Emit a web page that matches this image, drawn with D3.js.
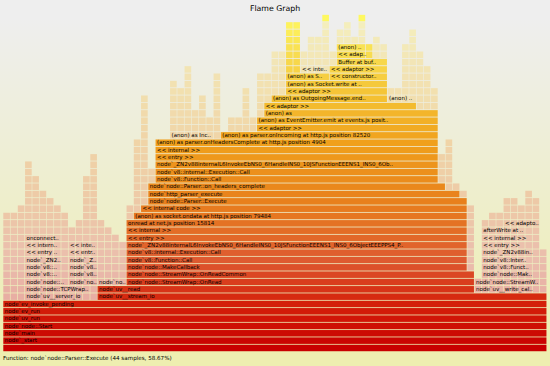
<!DOCTYPE html>
<html>
<head>
<meta charset="utf-8">
<script src="https://cdn.jsdelivr.net/npm/d3@7"></script>
<style>
  body { margin: 0; background: #fff; }
  svg { display: block; }
  text { font-family: "DejaVu Sans", Verdana, sans-serif; }
</style>
</head>
<body>
<svg></svg>
<script>
const totalSamples = 75;
const maxDepth = 45;
const chartTitle = 'Flame Graph';
const details = 'Function: node`node::Parser::Execute (44 samples, 58.67%)';

// highest frame depth in each sample column
const stackTop = [18, 18, 19, 25, 23, 21, 20, 19, 18, 16, 17, 23, 26, 17, 16, 15, 14, 19, 28, 34,
  24, 28, 28, 36, 35, 38, 32, 34, 31, 37, 29, 31, 31, 35, 31, 37, 37, 40, 40, 44,
  44, 40, 42, 42, 45, 40, 43, 44, 42, 45, 41, 42, 41, 35, 35, 41, 43, 40, 38, 35,
  26, 28, 22, 21, 19, 9, 17, 18, 18, 20, 20, 19, 21, 20, 13];
// frames up to this depth are highlighted, the rest are faded
const hotTop = [6, 6, 6, 6, 6, 6, 6, 6, 6, 6, 6, 6, 6, 8, 8, 8, 8, 17, 18, 19,
  22, 28, 28, 28, 28, 28, 28, 28, 28, 28, 29, 29, 29, 29, 29, 31, 33, 34, 34, 44,
  44, 37, 37, 37, 37, 38, 41, 41, 41, 41, 41, 39, 39, 33, 33, 33, 33, 32, 32, 32,
  22, 21, 21, 20, 10, 7, 7, 7, 7, 7, 7, 7, 7, 7, 7];
// highlighted leaf frames sitting on faded ones: [sample, depth]
const hotTips = [[44, 45], [49, 45]];

// [depth, first sample, samples, label]
const baseFrames = [
  [0, 0, 75, ''],
  [1, 0, 75, 'node`_start'],
  [2, 0, 75, 'node`main'],
  [3, 0, 75, 'node`node::Start'],
  [4, 0, 75, 'node`uv_run'],
  [5, 0, 75, 'node`ev_run'],
  [6, 0, 75, 'node`ev_invoke_pending'],
  [7, 3, 10, 'node`uv__server_io'],
  [7, 13, 62, 'node`uv__stream_io'],
  [8, 3, 10, 'node`node::TCPWrap..'],
  [8, 13, 52, 'node`uv__read'],
  [8, 65, 9, 'node`uv__write_cal..']
];

const readFrames = [
  [9, 17, 48, 'node`node::StreamWrap::OnRead'],
  [10, 17, 48, 'node`node::StreamWrap::OnReadCommon'],
  [11, 17, 47, 'node`node::MakeCallback'],
  [12, 17, 47, 'node`v8::Function::Call'],
  [13, 17, 47, 'node`v8::internal::Execution::Call'],
  [14, 17, 47, 'node`_ZN2v88internalL6InvokeEbNS0_6HandleINS0_10JSFunctionEEENS1_INS0_6ObjectEEEPPS4_P..'],
  [15, 17, 47, '<< entry >>'],
  [16, 17, 47, '<< internal >>'],
  [17, 17, 47, 'onread at net.js position 15814'],
  [18, 18, 46, '(anon) as socket.ondata at http.js position 79484'],
  [19, 19, 45, '<< internal code >>']
];

const parserFrames = [
  [20, 20, 44, 'node`node::Parser::Execute'],
  [21, 20, 43, 'node`http_parser_execute'],
  [22, 20, 41, 'node`node::Parser::on_headers_complete'],
  [23, 21, 39, 'node`v8::Function::Call'],
  [24, 21, 39, 'node`v8::internal::Execution::Call'],
  [25, 21, 39, 'node`_ZN2v88internalL6InvokeEbNS0_6HandleINS0_10JSFunctionEEENS1_INS0_6Ob..'],
  [26, 21, 39, '<< entry >>'],
  [27, 21, 39, '<< internal >>'],
  [28, 21, 39, '(anon) as parser.onHeadersComplete at http.js position 4904'],
  [29, 23, 7, '(anon) as Inc..'],
  [29, 30, 30, '(anon) as parser.onIncoming at http.js position 82520'],
  [30, 35, 25, '<< adaptor >>'],
  [31, 35, 25, '(anon) as EventEmitter.emit at events.js posit..'],
  [32, 36, 24, '(anon) as'],
  [33, 36, 21, '<< adaptor >>'],
  [34, 37, 16, '(anon) as OutgoingMessage.end..'],
  [34, 53, 4, '(anon) ..'],
  [35, 39, 14, '<< adaptor >>'],
  [36, 39, 14, '(anon) as Socket.write at ..'],
  [37, 39, 6, '(anon) as S..'],
  [37, 45, 8, '<< constructor..'],
  [38, 41, 4, '<< inte..'],
  [38, 45, 8, '<< adaptor >>'],
  [39, 46, 7, 'Buffer at buf..'],
  [40, 46, 4, '<< adap..'],
  [41, 46, 4, '(anon) ..']
];

const sideFrames = [
  [9, 3, 5, 'node`node::..'],
  [9, 9, 4, 'node`no..'],
  [9, 13, 4, 'node`no..'],
  [10, 3, 5, 'node`v8::..'],
  [10, 9, 4, 'node`v8..'],
  [11, 3, 5, 'node`v8::..'],
  [11, 9, 4, 'node`v8..'],
  [12, 3, 5, 'node`_ZN2..'],
  [12, 9, 4, 'node`_Z..'],
  [13, 3, 5, '<< entry ..'],
  [13, 9, 4, '<< entr..'],
  [14, 3, 5, '<< intern..'],
  [14, 9, 4, '<< inte..'],
  [15, 3, 5, 'onconnect..'],
  [9, 65, 9, 'node`node::StreamW..'],
  [10, 66, 8, 'node`node::Mak..'],
  [11, 66, 8, 'node`v8::Funct..'],
  [12, 66, 8, 'node`v8::Inter..'],
  [13, 66, 8, 'node`_ZN2v88in..'],
  [14, 66, 8, '<< entry >>'],
  [15, 66, 8, '<< internal >>'],
  [16, 66, 8, 'afterWrite at ..'],
  [17, 69, 5, '<< adapto..']
];

const width = 550;
const height = 366;

const svg = d3.select('svg').attr('width', width).attr('height', height);

const grad = svg.append('defs').append('linearGradient')
  .attr('id', 'background')
  .attr('x1', 0).attr('y1', 0).attr('x2', 0).attr('y2', 1);
grad.append('stop').attr('offset', '5%').attr('stop-color', '#eeeeee');
grad.append('stop').attr('offset', '95%').attr('stop-color', '#eeeeb0');

svg.append('rect')
  .attr('width', width)
  .attr('height', height)
  .attr('fill', 'url(#background)');

const x = d3.scaleLinear().domain([0, totalSamples]).range([3, 546.75]);
const y = d3.scaleLinear().domain([0, maxDepth]).range([344.3, 14.45]);
const rowH = y(0) - y(1);

const heat = d3.scaleLinear()
  .domain([0, 6, 12, 20, 28, 34, 40, 45])
  .range(['#c80000', '#d4200a', '#de5a30', '#e8801c', '#f0a01c', '#f4c032', '#f8dc50', '#fef860']);
const faded = (d) => d3.interpolateRgb(heat(d), '#f0ece8')(0.68);

const tipSet = new Set(hotTips.map(([s, d]) => s + ':' + d));
const isHot = (s, d) => d <= hotTop[s] || tipSet.has(s + ':' + d);

const frames = [...baseFrames, ...readFrames, ...parserFrames, ...sideFrames]
  .map(([depth, start, samples, label]) => ({ depth, start, samples, label }));
frames.forEach((f) => { f.hot = isHot(f.start, f.depth); });

// sample cells that a highlighted frame already covers
const covered = new Set();
frames.filter((f) => f.hot).forEach((f) => {
  d3.range(f.start, f.start + f.samples).forEach((s) => covered.add(s + ':' + f.depth));
});

const cells = [];
stackTop.forEach((top, s) => {
  d3.range(0, top + 1).forEach((d) => {
    if (!covered.has(s + ':' + d)) cells.push({ s, d, hot: isHot(s, d) });
  });
});

const g = svg.append('g');

g.selectAll('rect.cell')
  .data(cells)
  .join('rect')
  .attr('class', 'cell')
  .attr('x', (d) => x(d.s) + 0.3)
  .attr('y', (d) => y(d.d) + 0.4)
  .attr('width', x(1) - x(0) - 0.6)
  .attr('height', rowH - 0.8)
  .attr('fill', (d) => (d.hot ? heat(d.d) : faded(d.d)));

g.selectAll('rect.frame')
  .data(frames.filter((f) => f.hot))
  .join('rect')
  .attr('class', 'frame')
  .attr('x', (d) => x(d.start) + 0.3)
  .attr('y', (d) => y(d.depth) + 0.4)
  .attr('width', (d) => x(d.start + d.samples) - x(d.start) - 0.6)
  .attr('height', rowH - 0.8)
  .attr('fill', (d) => heat(d.depth));

g.selectAll('text.label')
  .data(frames.filter((f) => f.label))
  .join('text')
  .attr('class', 'label')
  .attr('x', (d) => x(d.start) + 1.8)
  .attr('y', (d) => y(d.depth) + 5.3)
  .attr('font-size', 5.5)
  .attr('fill', '#000')
  .text((d) => d.label);

svg.append('text')
  .attr('x', width / 2)
  .attr('y', 10.5)
  .attr('text-anchor', 'middle')
  .attr('font-size', 7.8)
  .attr('fill', '#000')
  .text(chartTitle);

svg.append('text')
  .attr('x', 3)
  .attr('y', 359.8)
  .attr('font-size', 5.6)
  .attr('fill', '#000')
  .text(details);
</script>
</body>
</html>
